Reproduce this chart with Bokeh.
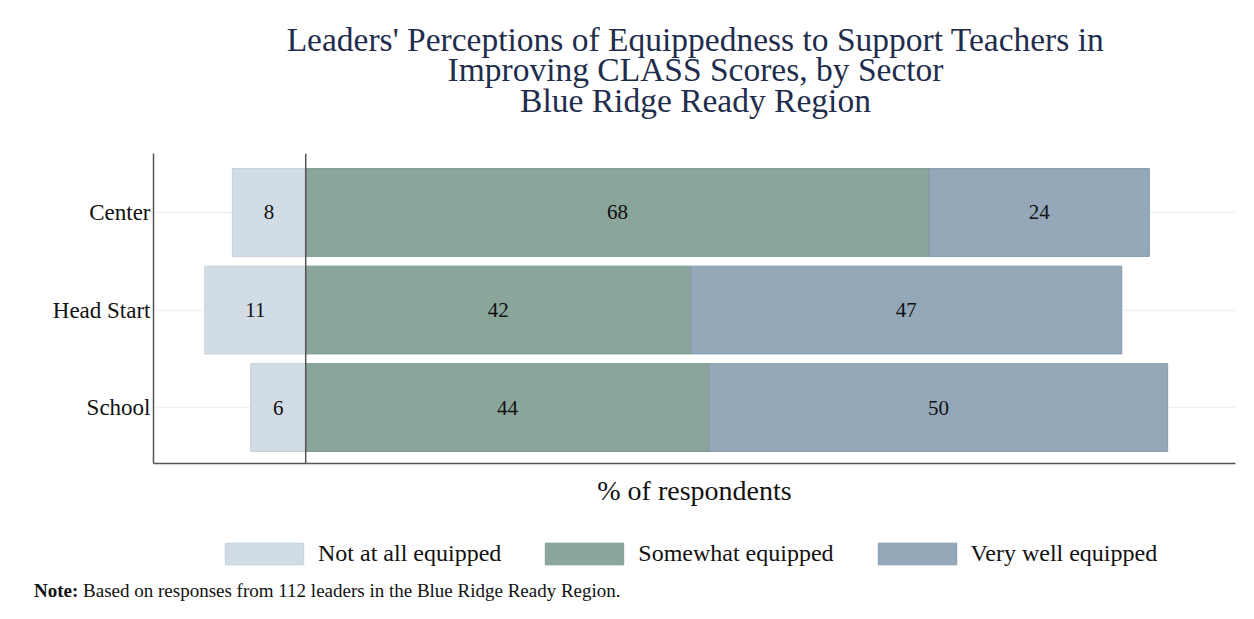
from bokeh.plotting import figure
from bokeh.layouts import column
from bokeh.models import (ColumnDataSource, Span, FixedTicker, Legend, LegendItem, Label,
                          Range1d, Div)
from bokeh.core.properties import value
from bokeh.embed import file_html
from bokeh.resources import INLINE

sectors = ["Center", "Head Start", "School"]
not_at_all = [8, 11, 6]
somewhat = [68, 42, 44]
very_well = [24, 47, 50]
series_names = ["Not at all equipped", "Somewhat equipped", "Very well equipped"]
title_lines = ["Leaders' Perceptions of Equippedness to Support Teachers in",
               "Improving CLASS Scores, by Sector",
               "Blue Ridge Ready Region"]
note_text = "Based on responses from 112 leaders in the Blue Ridge Ready Region."

FONT = "Liberation Serif"
fills = ["#d1dce5", "#8aa59a", "#95a8b9"]
borders = ["#c3cfda", "#7f9a8f", "#8599ad"]
W = 1238
FL, FR = 153, 3   # frame borders shared by all stacked figures

# ---------- title strip ----------
TH = 140
top = figure(width=W, height=TH, output_backend="svg", toolbar_location=None,
             x_range=Range1d(0, 1), y_range=Range1d(0, TH),
             min_border_left=FL, min_border_right=FR, min_border_top=0, min_border_bottom=0,
             x_axis_location=None, y_axis_location=None, outline_line_color=None)
top.grid.visible = False
for i, t in enumerate(title_lines):
    top.add_layout(Label(x=695 - FL, y=TH - (38.5 + i * 30.5), x_units="screen",
                         text=t, text_align="center", text_baseline="middle",
                         text_font=FONT, text_font_size="33.5px", text_color="#1f2d4d"))

# ---------- main chart ----------
ypos = [3, 2, 1]
src = ColumnDataSource(dict(
    y=ypos,
    n_left=[-v for v in not_at_all], n_right=[0] * 3,
    s_left=[0] * 3, s_right=somewhat,
    v_left=somewhat, v_right=[s + v for s, v in zip(somewhat, very_well)],
    n_mid=[-v / 2 for v in not_at_all],
    s_mid=[s / 2 for s in somewhat],
    v_mid=[s + v / 2 for s, v in zip(somewhat, very_well)],
    n_lab=[str(v) for v in not_at_all],
    s_lab=[str(v) for v in somewhat],
    v_lab=[str(v) for v in very_well],
))

p = figure(width=W, height=380, output_backend="svg", toolbar_location=None,
           x_range=Range1d(-16.6, 101.4), y_range=Range1d(0.426, 3.605),
           min_border_left=FL, min_border_right=FR, min_border_top=13, min_border_bottom=57,
           outline_line_color=None)

for (l, r), fc, lc in zip((("n_left", "n_right"), ("s_left", "s_right"), ("v_left", "v_right")),
                          fills, borders):
    p.hbar(y="y", left=l, right=r, height=0.9, source=src,
           fill_color=fc, line_color=lc, line_width=1)

for col, lab in (("n_mid", "n_lab"), ("s_mid", "s_lab"), ("v_mid", "v_lab")):
    p.text(x=col, y="y", text=lab, source=src, text_align="center", text_baseline="middle",
           text_font=value(FONT), text_font_size="21px", text_color="#111111")

p.add_layout(Span(location=0, dimension="height", line_color="#555555", line_width=1.5))

p.xaxis.ticker = FixedTicker(ticks=[])
p.xaxis.major_tick_line_color = None
p.xaxis.minor_tick_line_color = None
p.xaxis.major_tick_out = 0
p.xaxis.major_tick_in = 0
p.xaxis.major_label_standoff = 0
p.xaxis.axis_line_color = "#555555"
p.xaxis.axis_line_width = 1.5
p.xaxis.axis_label = "% of respondents"
p.xaxis.axis_label_text_font = FONT
p.xaxis.axis_label_text_font_size = "28px"
p.xaxis.axis_label_text_font_style = "normal"
p.xaxis.axis_label_text_color = "#111111"
p.xaxis.axis_label_standoff = 11

p.yaxis.ticker = FixedTicker(ticks=ypos)
p.yaxis.major_label_overrides = {y: s for y, s in zip(ypos, sectors)}
p.yaxis.major_tick_line_color = None
p.yaxis.minor_tick_line_color = None
p.yaxis.major_tick_out = 0
p.yaxis.major_tick_in = 0
p.yaxis.axis_line_color = "#555555"
p.yaxis.axis_line_width = 1.5
p.yaxis.major_label_text_font = FONT
p.yaxis.major_label_text_font_size = "23px"
p.yaxis.major_label_text_color = "#111111"
p.yaxis.major_label_standoff = 3

p.xgrid.visible = False
p.ygrid.ticker = FixedTicker(ticks=ypos)
p.ygrid.grid_line_color = "#eef2f3"
p.ygrid.grid_line_width = 1.5

# ---------- legend strip ----------
BH = 50
bot = figure(width=W, height=BH, output_backend="svg", toolbar_location=None,
             x_range=Range1d(0, 10), y_range=Range1d(0, 10),
             min_border_left=FL, min_border_right=FR, min_border_top=0, min_border_bottom=0,
             x_axis_location=None, y_axis_location=None, outline_line_color=None)
bot.grid.visible = False
hidden = ColumnDataSource(dict(y=[-50], left=[0], right=[1]))  # outside the visible range
items = []
for name, fc, lc in zip(series_names, fills, borders):
    rr = bot.hbar(y="y", left="left", right="right", height=1, source=hidden,
                  fill_color=fc, line_color=lc, line_width=1)
    items.append(LegendItem(label=name, renderers=[rr]))
legend = Legend(items=items, orientation="horizontal", location=(215 - FL, 3),
                glyph_width=98, glyph_height=27, label_standoff=5, spacing=34,
                label_text_font=FONT, label_text_font_size="24px", label_text_color="#111111",
                border_line_color=None, background_fill_alpha=0, padding=0, margin=0)
bot.add_layout(legend, "center")

note = Div(text="<b>Note:</b> " + note_text, width=800, height=24,
           styles={"font-family": FONT, "font-size": "19px", "color": "#111111",
                   "line-height": "24px"},
           margin=(9, 0, 0, 34))

open("out.html", "w").write(file_html(column(top, p, bot, note, spacing=0), INLINE))
